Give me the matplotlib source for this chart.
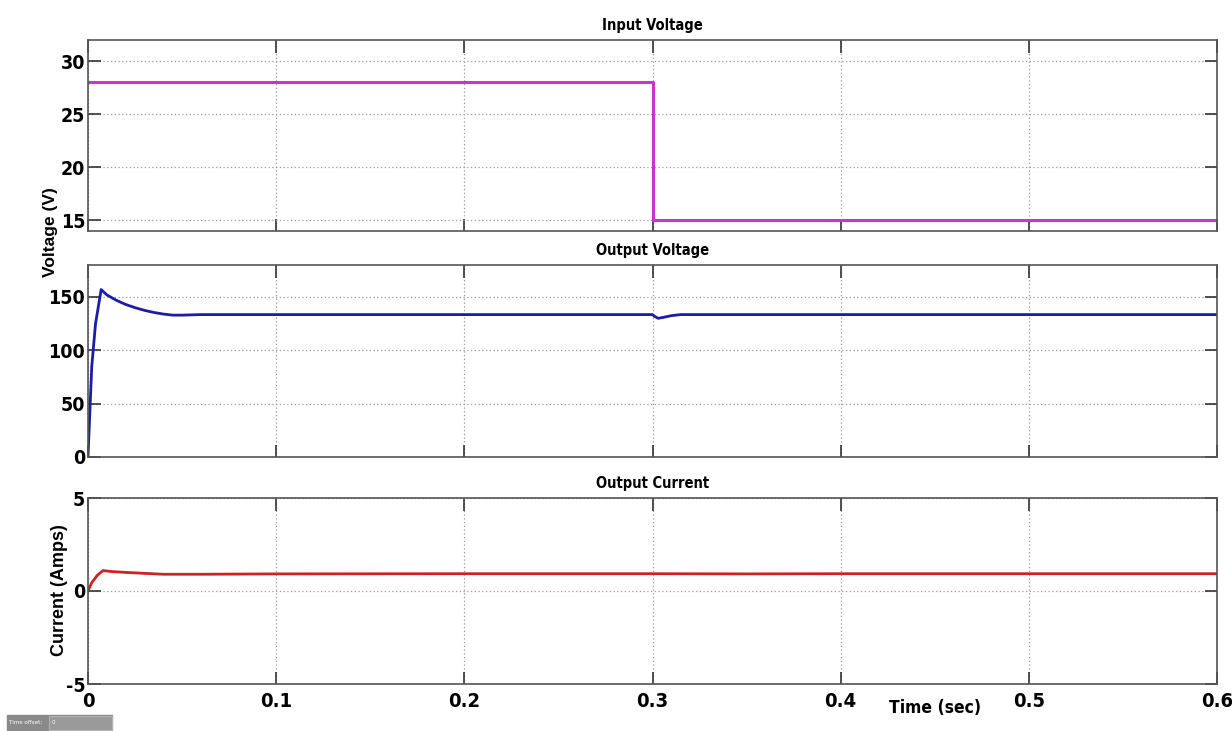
import matplotlib
matplotlib.use("Agg")
import matplotlib.pyplot as plt
from matplotlib.patches import Rectangle

plt.rcParams["axes.unicode_minus"] = False

# Simulation scope traces (time in seconds)
t_in = [0.0, 0.3, 0.3, 0.6]
v_in = [28.0, 28.0, 15.0, 15.0]

t_vout = [0.0, 0.002, 0.004, 0.007, 0.010, 0.015, 0.020, 0.025, 0.030, 0.035,
          0.040, 0.045, 0.050, 0.060, 0.100, 0.200, 0.300, 0.301, 0.303,
          0.306, 0.310, 0.315, 0.320, 0.400, 0.500, 0.600]
v_out = [0.0, 85.0, 125.0, 157.0, 152.0, 147.0, 143.0, 140.0, 137.5, 135.5,
         134.0, 133.0, 133.0, 133.5, 133.5, 133.5, 133.5, 132.0, 130.0,
         131.0, 132.5, 133.5, 133.5, 133.5, 133.5, 133.5]

t_iout = [0.0, 0.002, 0.005, 0.008, 0.012, 0.020, 0.030, 0.040, 0.060, 0.100,
          0.200, 0.300, 0.350, 0.400, 0.500, 0.600]
i_out = [0.0, 0.45, 0.85, 1.10, 1.05, 1.00, 0.95, 0.90, 0.90, 0.92,
         0.93, 0.93, 0.92, 0.93, 0.93, 0.93]

x_ticks = [0, 0.1, 0.2, 0.3, 0.4, 0.5, 0.6]
x_tick_labels = ["0", "0.1", "0.2", "0.3", "0.4", "0.5", "0.6"]

narrow = dict(fontfamily=["DejaVu Sans"], fontstretch="condensed",
              fontweight="bold")
wide = dict(fontfamily=["Liberation Sans", "DejaVu Sans"], fontweight="bold")

fig = plt.figure(figsize=(12.32, 7.31), dpi=100)
W, H = 1232, 731


def box(left, top, right, bottom):
    return [left / W, 1 - bottom / H, (right - left) / W, (bottom - top) / H]


ax1 = fig.add_axes(box(88, 40, 1217, 231))
ax2 = fig.add_axes(box(88, 265, 1217, 457))
ax3 = fig.add_axes(box(88, 498, 1217, 684))

ax1.plot(t_in, v_in, color="#cc33cc", lw=2.2)
ax2.plot(t_vout, v_out, color="#1c1ca6", lw=2.0)
ax3.plot(t_iout, i_out, color="#cc2222", lw=2.0)

ax1.set_ylim(14, 32)
ax1.set_yticks([15, 20, 25, 30])
ax2.set_ylim(0, 180)
ax2.set_yticks([0, 50, 100, 150])
ax3.set_ylim(-5, 5)
ax3.set_yticks([-5, 0, 5])

titles = ["Input Voltage", "Output Voltage", "Output Current"]
for ax, title in zip([ax1, ax2, ax3], titles):
    ax.set_xlim(0, 0.6)
    ax.set_xticks(x_ticks)
    ax.grid(True, linestyle=(0, (1, 2)), color="#999999", lw=0.9)
    ax.tick_params(direction="in", length=9, width=1.2, top=True, right=True,
                   colors="#333333", labelcolor="black", labelsize=14, pad=2)
    for lab in ax.get_yticklabels():
        lab.set(**narrow)
    for s in ax.spines.values():
        s.set_color("#555555")
        s.set_linewidth(1.2)
    ax.set_title(title, fontsize=10.5, pad=7, **narrow)

for ax in [ax1, ax2]:
    ax.set_xticklabels([])
ax3.set_xticklabels(x_tick_labels, fontsize=14.5, **narrow)
ax3.tick_params(axis="x", pad=6)

fig.text(50 / W, 1 - 232 / H, "Voltage (V)", rotation=90, ha="center",
         va="center", fontsize=12.5, **wide)
fig.text(60 / W, 1 - 590 / H, "Current (Amps)", rotation=90, ha="center",
         va="center", fontsize=13, **wide)
fig.text(935 / W, 1 - 708 / H, "Time (sec)", ha="center", va="center",
         fontsize=12.5, **narrow)

# status bar at the bottom of the scope window
fig.patches.append(Rectangle((7 / W, 1 - 731 / H), 105 / W, 16 / H,
                             transform=fig.transFigure, color="#8a8a8a"))
fig.patches.append(Rectangle((49 / W, 1 - 730 / H), 63 / W, 14 / H,
                             transform=fig.transFigure, color="#9a9a9a",
                             ec="#bbbbbb", lw=0.6))
fig.text(9 / W, 1 - 723 / H, "Time offset:", color="white", fontsize=4.5,
         va="center", fontfamily=["DejaVu Sans"], fontstretch="condensed")
fig.text(52 / W, 1 - 723 / H, "0", color="white", fontsize=4.5,
         va="center", fontfamily=["DejaVu Sans"], fontstretch="condensed")

fig.savefig("out.png", dpi=100)
